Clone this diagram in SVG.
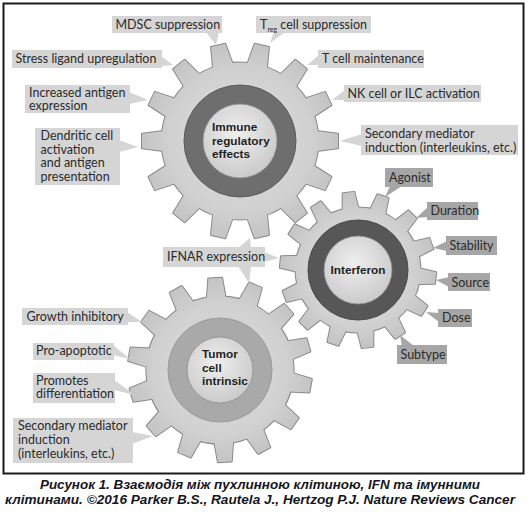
<svg xmlns="http://www.w3.org/2000/svg" xmlns:xlink="http://www.w3.org/1999/xlink" width="529" height="518" viewBox="0 0 529 518">
<style>
.gs{fill:none;stroke:#8a8a8a;stroke-width:2;stroke-linejoin:round}
.gf{fill:url(#gearGrad);stroke:none}
.lab{font-family:Lato,"Open Sans",sans-serif;font-size:12.5px;fill:#2b2b2b}
.ctr{font-family:"Liberation Sans",Arial,sans-serif;font-size:11.8px;font-weight:bold;fill:#1e1e1e}
.bl{fill:#d5d5d5}
.bd{fill:#a6a6a6}
.inner{fill:url(#innerGrad);stroke:#8e8e8e;stroke-width:0.8}
.cap{font-family:"Liberation Sans",Arial,sans-serif;font-size:12.5px;font-weight:bold;font-style:italic;fill:#151520}
</style>
<defs>
<radialGradient id="gearGrad" gradientUnits="userSpaceOnUse" cx="0" cy="0" r="100">
<stop offset="0" stop-color="#dcdcdc"/>
<stop offset="0.7" stop-color="#d1d1d1"/>
<stop offset="1" stop-color="#c4c4c4"/>
</radialGradient>
<radialGradient id="innerGrad" cx="0.45" cy="0.4" r="0.65">
<stop offset="0" stop-color="#efefef"/>
<stop offset="1" stop-color="#c8c8c8"/>
</radialGradient>
<polygon id="tooth" points="72,-11 100,-7.5 100,7.5 72,11" vector-effect="non-scaling-stroke"/>
<g id="gear14">
<circle r="80" vector-effect="non-scaling-stroke"/>
<use href="#tooth"/>
<use href="#tooth" transform="rotate(25.714)"/>
<use href="#tooth" transform="rotate(51.429)"/>
<use href="#tooth" transform="rotate(77.143)"/>
<use href="#tooth" transform="rotate(102.857)"/>
<use href="#tooth" transform="rotate(128.571)"/>
<use href="#tooth" transform="rotate(154.286)"/>
<use href="#tooth" transform="rotate(180)"/>
<use href="#tooth" transform="rotate(205.714)"/>
<use href="#tooth" transform="rotate(231.429)"/>
<use href="#tooth" transform="rotate(257.143)"/>
<use href="#tooth" transform="rotate(282.857)"/>
<use href="#tooth" transform="rotate(308.571)"/>
<use href="#tooth" transform="rotate(334.286)"/>
</g>
</defs>

<rect x="3.5" y="3.5" width="520" height="470" fill="#ffffff" stroke="#1a1a1a" stroke-width="2"/>

<g id="gear-immune" transform="translate(240,141)">
<use href="#gear14" class="gs" transform="scale(0.98)"/>
<use href="#gear14" class="gf" transform="scale(0.98)"/>
<circle r="56" fill="#6e6e6e" stroke="#5c5c5c" stroke-width="1"/>
<circle r="37" class="inner"/>
<text class="ctr" x="-28" y="-9.7">Immune</text>
<text class="ctr" x="-28" y="3.5">regulatory</text>
<text class="ctr" x="-28" y="16.7">effects</text>
</g>

<g id="gear-tumor" transform="translate(220,370)">
<use href="#gear14" class="gs" transform="rotate(-93) scale(0.92)"/>
<use href="#gear14" class="gf" transform="rotate(-93) scale(0.92)"/>
<circle r="52" fill="#a9a9a9" stroke="#999999" stroke-width="1"/>
<circle r="33" class="inner"/>
<text class="ctr" x="-18" y="-11.7">Tumor</text>
<text class="ctr" x="-18" y="1.5">cell</text>
<text class="ctr" x="-18" y="14.7">intrinsic</text>
</g>

<g id="gear-interferon" transform="translate(358,270)">
<use href="#gear14" class="gs" transform="rotate(-97) scale(0.78)"/>
<use href="#gear14" class="gf" transform="rotate(-97) scale(0.78)"/>
<circle r="50" fill="#575757" stroke="#4a4a4a" stroke-width="1"/>
<circle r="34" class="inner"/>
<text class="ctr" x="0" y="4" text-anchor="middle">Interferon</text>
</g>

<g id="connectors">
<polygon class="bl" points="206,32 219,32 216,45"/>
<polygon class="bl" points="274,32 285,32 270,43"/>
<polygon class="bl" points="161,56 161,66 173,65"/>
<polygon class="bl" points="319,55 319,65 307,65"/>
<polygon class="bl" points="129,92 129,104 148,100"/>
<polygon class="bl" points="345,90 345,100 332,100"/>
<polygon class="bl" points="119,140 119,152 138,147"/>
<polygon class="bl" points="362,134 362,146 340,141"/>
<polygon class="bd" points="390,186 402,186 385,197"/>
<polygon class="bd" points="428,207 428,217 416,218"/>
<polygon class="bd" points="447,241 447,251 433,248"/>
<polygon class="bd" points="449,277 449,287 436,280"/>
<polygon class="bd" points="439,313 439,322 426,312"/>
<polygon class="bd" points="402,346 414,346 400,335"/>
<polygon class="bl" points="264,252 264,262 279,258"/>
<polygon class="bl" points="238,248 251,248 250,238"/>
<polygon class="bl" points="238,266 251,266 249,283"/>
<polygon class="bl" points="127,312 127,322 142,322"/>
<polygon class="bl" points="113,345 113,355 130,359"/>
<polygon class="bl" points="114,380 114,390 135,395"/>
<polygon class="bl" points="132,432 132,444 153,436"/>
</g>

<g id="label-mdsc"><rect class="bl" x="112" y="16" width="110" height="17"/><text class="lab" x="115.5" y="29">MDSC suppression</text></g>
<g id="label-treg"><rect class="bl" x="256" y="16" width="115" height="17"/><text class="lab" x="260" y="29">T<tspan font-size="7" dy="3">reg</tspan><tspan dy="-3"> cell suppression</tspan></text></g>
<g id="label-stress"><rect class="bl" x="12" y="50" width="150" height="18"/><text class="lab" x="15.5" y="63">Stress ligand upregulation</text></g>
<g id="label-tcell"><rect class="bl" x="318" y="50" width="106" height="18"/><text class="lab" x="322" y="63">T cell maintenance</text></g>
<g id="label-antigen"><rect class="bl" x="25" y="85" width="105" height="28"/><text class="lab" x="29" y="96.5">Increased antigen<tspan x="29" y="110">expression</tspan></text></g>
<g id="label-nk"><rect class="bl" x="344" y="85" width="137" height="17"/><text class="lab" x="347.5" y="97.5">NK cell or ILC activation</text></g>
<g id="label-dendritic"><rect class="bl" x="35" y="128" width="85" height="57"/><text class="lab" x="40.5" y="140">Dendritic cell<tspan x="40.5" y="153.7">activation</tspan><tspan x="40.5" y="167.4">and antigen</tspan><tspan x="40.5" y="181">presentation</tspan></text></g>
<g id="label-secondary-immune"><rect class="bl" x="361" y="125" width="157" height="30"/><text class="lab" x="365" y="138">Secondary mediator<tspan x="365" y="151.7">induction (interleukins, etc.)</tspan></text></g>

<g id="label-agonist"><rect class="bd" x="385" y="168" width="48" height="19"/><text class="lab" x="389" y="182">Agonist</text></g>
<g id="label-duration"><rect class="bd" x="427" y="202" width="51" height="18"/><text class="lab" x="430.5" y="215">Duration</text></g>
<g id="label-stability"><rect class="bd" x="446" y="236" width="51" height="19"/><text class="lab" x="449.5" y="249.5">Stability</text></g>
<g id="label-source"><rect class="bd" x="448" y="273" width="42" height="18"/><text class="lab" x="451.5" y="286.5">Source</text></g>
<g id="label-dose"><rect class="bd" x="438" y="309" width="34" height="18"/><text class="lab" x="442" y="322">Dose</text></g>
<g id="label-subtype"><rect class="bd" x="397" y="345" width="50" height="19"/><text class="lab" x="400.5" y="358.5">Subtype</text></g>
<g id="label-ifnar"><rect class="bl" x="163" y="247" width="102" height="20"/><text class="lab" x="167" y="261">IFNAR expression</text></g>

<g id="label-growth"><rect class="bl" x="22" y="308" width="106" height="17"/><text class="lab" x="26.5" y="320.5">Growth inhibitory</text></g>
<g id="label-proapoptotic"><rect class="bl" x="33" y="343" width="81" height="17"/><text class="lab" x="36" y="355">Pro-apoptotic</text></g>
<g id="label-differentiation"><rect class="bl" x="33" y="373" width="82" height="30"/><text class="lab" x="36" y="384.5">Promotes<tspan x="36" y="398">differentiation</tspan></text></g>
<g id="label-secondary-tumor"><rect class="bl" x="13" y="418" width="120" height="45"/><text class="lab" x="18" y="429.5">Secondary mediator<tspan x="18" y="443.5">induction</tspan><tspan x="18" y="457.5">(interleukins, etc.)</tspan></text></g>

<text class="cap" x="260" y="488.5" text-anchor="middle" textLength="440" lengthAdjust="spacingAndGlyphs">Рисунок 1. Взаємодія між пухлинною клітиною, IFN та імунними</text>
<text class="cap" x="260" y="504" text-anchor="middle" textLength="510" lengthAdjust="spacingAndGlyphs">клітинами. ©2016 Parker B.S., Rautela J., Hertzog P.J. Nature Reviews Cancer</text>
</svg>
